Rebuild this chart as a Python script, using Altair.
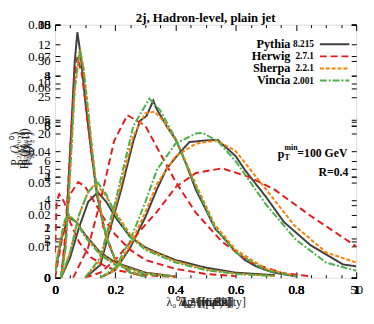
import altair as alt
import pandas as pd

W, H = 307, 258
SERIF = "Liberation Serif"

gens = ["Pythia", "Herwig", "Sherpa", "Vincia"]
versions = ["8.215", "2.7.1", "2.2.1", "2.001"]
colors = ["#404040", "#e41a1c", "#ff7f00", "#4daf4a"]
dashes = [[1, 0], [7, 4], [4, 2], [7, 2, 2, 2]]

# ---- (pT^D)^2 : tall narrow peak
ptd_x_py = [0.02, 0.035, 0.05, 0.065, 0.074, 0.085, 0.10, 0.12, 0.14, 0.17, 0.20, 0.25, 0.30]
ptd_y_py = [0, 0.012, 0.040, 0.068, 0.0776, 0.0704, 0.056, 0.040, 0.0256, 0.0128, 0.0056, 0.0016, 0.0004]
ptd_x_hw = [0.02, 0.035, 0.05, 0.065, 0.074, 0.09, 0.105, 0.12, 0.135, 0.16, 0.20, 0.25, 0.30]
ptd_y_hw = [0, 0.0144, 0.040, 0.064, 0.0698, 0.064, 0.052, 0.040, 0.0304, 0.016, 0.0056, 0.0016, 0.0004]
ptd_x_sh = [0.02, 0.035, 0.05, 0.065, 0.083, 0.095, 0.11, 0.125, 0.14, 0.17, 0.20, 0.25, 0.30]
ptd_y_sh = [0, 0.0092, 0.033, 0.059, 0.0722, 0.066, 0.053, 0.039, 0.027, 0.013, 0.0058, 0.0017, 0.0004]
ptd_x_vi = [0.02, 0.035, 0.05, 0.065, 0.082, 0.095, 0.11, 0.125, 0.14, 0.17, 0.20, 0.25, 0.30]
ptd_y_vi = [0, 0.0096, 0.0336, 0.060, 0.072, 0.0656, 0.052, 0.0384, 0.0264, 0.0128, 0.0056, 0.0016, 0.0004]

# ---- LHA : peak near 0.3
lha_x_py = [0.10, 0.15, 0.174, 0.22, 0.26, 0.282, 0.304, 0.326, 0.337, 0.37, 0.402, 0.435, 0.467, 0.50, 0.532, 0.565, 0.598, 0.63, 0.663, 0.70, 0.728, 0.80]
lha_y_py = [0, 0.004, 0.0124, 0.028, 0.0432, 0.0496, 0.0512, 0.056, 0.0534, 0.048, 0.0434, 0.036, 0.0279, 0.0216, 0.0155, 0.012, 0.0084, 0.0056, 0.0038, 0.0024, 0.0016, 0.0004]
lha_x_hw = [0.06, 0.11, 0.15, 0.196, 0.24, 0.30, 0.337, 0.40, 0.467, 0.554, 0.65, 0.75, 0.85]
lha_y_hw = [0, 0.0096, 0.024, 0.0432, 0.0514, 0.048, 0.0414, 0.0304, 0.0206, 0.0114, 0.0048, 0.0016, 0.0004]
lha_x_sh = [0.10, 0.15, 0.20, 0.26, 0.30, 0.33, 0.36, 0.40, 0.467, 0.53, 0.60, 0.70, 0.80]
lha_y_sh = [0, 0.0056, 0.0224, 0.0448, 0.052, 0.0525, 0.0496, 0.044, 0.0296, 0.0168, 0.0088, 0.0028, 0.0005]
lha_x_vi = [0.10, 0.15, 0.20, 0.26, 0.313, 0.35, 0.40, 0.467, 0.53, 0.60, 0.70, 0.80]
lha_y_vi = [0, 0.0064, 0.024, 0.048, 0.0566, 0.0528, 0.044, 0.0288, 0.016, 0.008, 0.0024, 0.0004]

# ---- multiplicity (0..50) : broad peak near 25
mult_x_py = [7.5, 10, 12.5, 15, 16.9, 18.5, 20.1, 22.3, 25, 27, 30, 31.5, 35, 38, 42.4, 47.8, 50]
mult_y_py = [0, 0.0024, 0.0096, 0.0192, 0.0279, 0.0344, 0.0382, 0.0429, 0.0434, 0.0436, 0.0384, 0.0341, 0.0256, 0.0176, 0.0103, 0.0042, 0.0036]
mult_x_hw = [5, 7.5, 10, 12.5, 15, 16.9, 20.1, 23.4, 27.7, 32, 36.4, 42.4, 50]
mult_y_hw = [0, 0.0016, 0.0056, 0.0112, 0.0168, 0.0208, 0.0288, 0.0331, 0.0346, 0.032, 0.0279, 0.0196, 0.0099]
mult_x_sh = [7.5, 10, 12.5, 15, 16.9, 20, 23.4, 26.9, 30, 35, 39.7, 45, 50]
mult_y_sh = [0, 0.0024, 0.0104, 0.0208, 0.0296, 0.0384, 0.0424, 0.0434, 0.040, 0.028, 0.0166, 0.008, 0.0048]
mult_x_vi = [7.5, 10, 12.5, 15, 16.9, 20, 23.4, 24.5, 27, 30, 35, 40, 45, 50]
mult_y_vi = [0, 0.0032, 0.012, 0.024, 0.0341, 0.0424, 0.0456, 0.0458, 0.0432, 0.0368, 0.0232, 0.012, 0.0048, 0.0022]

# ---- width : peak near 0.14
wid_x_py = [0.02, 0.05, 0.08, 0.11, 0.142, 0.17, 0.20, 0.25, 0.30, 0.337, 0.40, 0.50, 0.60, 0.73]
wid_y_py = [0, 0.0064, 0.016, 0.024, 0.027, 0.024, 0.0192, 0.0128, 0.0096, 0.008, 0.0056, 0.0032, 0.0016, 0.0008]
wid_x_hw = [0.0, 0.03, 0.05, 0.077, 0.10, 0.13, 0.17, 0.20, 0.25, 0.30, 0.40, 0.50, 0.60]
wid_y_hw = [0, 0.016, 0.0264, 0.0302, 0.0288, 0.024, 0.0176, 0.0136, 0.0088, 0.0056, 0.0028, 0.0012, 0.0005]
wid_x_sh = [0.02, 0.05, 0.08, 0.11, 0.131, 0.16, 0.20, 0.25, 0.30, 0.40, 0.50, 0.60, 0.73]
wid_y_sh = [0, 0.008, 0.020, 0.0272, 0.0294, 0.0272, 0.0208, 0.0136, 0.0092, 0.0052, 0.0026, 0.0013, 0.0005]
wid_x_vi = [0.02, 0.05, 0.08, 0.11, 0.142, 0.17, 0.20, 0.25, 0.30, 0.40, 0.50, 0.60, 0.73]
wid_y_vi = [0, 0.008, 0.020, 0.0272, 0.030, 0.0264, 0.020, 0.0128, 0.0088, 0.0048, 0.0024, 0.0012, 0.0005]

# ---- mass : peak at small values
mass_x_py = [0.0, 0.02, 0.044, 0.07, 0.10, 0.15, 0.20, 0.30, 0.40]
mass_y_py = [0.0016, 0.012, 0.0192, 0.0176, 0.0136, 0.008, 0.0048, 0.0016, 0.0004]
mass_x_hw = [0.0, 0.005, 0.014, 0.03, 0.05, 0.08, 0.12, 0.16, 0.20, 0.30, 0.40]
mass_y_hw = [0.008, 0.024, 0.0264, 0.024, 0.0176, 0.0112, 0.0064, 0.004, 0.0024, 0.0008, 0.0002]
mass_x_sh = [0.0, 0.01, 0.03, 0.045, 0.07, 0.10, 0.15, 0.20, 0.30, 0.40]
mass_y_sh = [0.0016, 0.008, 0.0168, 0.0196, 0.0176, 0.0132, 0.0076, 0.0044, 0.0014, 0.0004]
mass_x_vi = [0.0, 0.01, 0.03, 0.045, 0.07, 0.10, 0.15, 0.20, 0.30, 0.40]
mass_y_vi = [0.0016, 0.008, 0.0176, 0.020, 0.0176, 0.0128, 0.0072, 0.004, 0.0012, 0.0003]

# axis tick values of the superimposed panels
yA = [0, 0.01, 0.02, 0.03, 0.04, 0.05, 0.06, 0.07, 0.08]
yB = [0, 5, 10, 15, 20, 25, 30, 35]
yC = [0, 2, 4, 6, 8, 10, 12]
yD = [0, 2, 4, 6, 8, 10]
yE = [0, 1, 2, 3, 4, 5]
xL = [0, 0.2, 0.4, 0.6, 0.8, 1.0]
xM = [0, 50]
x_minor = [0.05, 0.1, 0.15, 0.25, 0.3, 0.35, 0.45, 0.5, 0.55, 0.65, 0.7, 0.75, 0.85, 0.9, 0.95]

y_titles = ["P₂ⱼ(λ₀⁰)", "P₂ⱼ(λ₀²)", "P₂ⱼ(λ₀.₅¹)", "P₂ⱼ(λ₁¹)", "P₂ⱼ(λ₂¹)"]
x_titles = ["λ₀⁰ [multiplicity]", "λ₀² [(pₜᴰ)²]", "λ₀.₅¹ [LHA]", "λ₁¹ [width]", "λ₂¹ [mass]"]
title_text = ["2j, Hadron-level, plain jet"]
annot = ["p", "T", "min", "=100 GeV", "R=0.4"]

series = {
    "Pythia": [("ptd", ptd_x_py, ptd_y_py), ("lha", lha_x_py, lha_y_py), ("wid", wid_x_py, wid_y_py), ("mass", mass_x_py, mass_y_py)],
    "Herwig": [("ptd", ptd_x_hw, ptd_y_hw), ("lha", lha_x_hw, lha_y_hw), ("wid", wid_x_hw, wid_y_hw), ("mass", mass_x_hw, mass_y_hw)],
    "Sherpa": [("ptd", ptd_x_sh, ptd_y_sh), ("lha", lha_x_sh, lha_y_sh), ("wid", wid_x_sh, wid_y_sh), ("mass", mass_x_sh, mass_y_sh)],
    "Vincia": [("ptd", ptd_x_vi, ptd_y_vi), ("lha", lha_x_vi, lha_y_vi), ("wid", wid_x_vi, wid_y_vi), ("mass", mass_x_vi, mass_y_vi)],
}
mult = {"Pythia": (mult_x_py, mult_y_py), "Herwig": (mult_x_hw, mult_y_hw),
        "Sherpa": (mult_x_sh, mult_y_sh), "Vincia": (mult_x_vi, mult_y_vi)}

YDOM = [0, 0.08]


def sc(dom):
    return alt.Scale(domain=list(dom), nice=False, zero=False)


layers = []
for g, col, dsh in zip(gens, colors, dashes):
    rows = []
    for obs, xs, ys in series[g]:
        for a, b in zip(xs, ys):
            rows.append({"obs": obs, "x": a, "y": b})
    df = pd.DataFrame(rows)
    layers.append(alt.Chart(df).mark_line(strokeWidth=2, clip=True, color=col, strokeDash=dsh).encode(
        x=alt.X("x:Q", scale=sc([0, 1]), axis=None),
        y=alt.Y("y:Q", scale=sc(YDOM), axis=None),
        detail="obs:N"))
    mx, my = mult[g]
    dfm = pd.DataFrame({"x": mx, "y": my})
    layers.append(alt.Chart(dfm).mark_line(strokeWidth=2, clip=True, color=col, strokeDash=dsh).encode(
        x=alt.X("x:Q", scale=sc([0, 50]), axis=None),
        y=alt.Y("y:Q", scale=sc(YDOM), axis=None)))


def guide(xdom, ydom, xaxis=None, yaxis=None):
    df = pd.DataFrame({"gx": list(xdom), "gy": list(ydom)})
    return alt.Chart(df).mark_point(opacity=0).encode(
        x=alt.X("gx:Q", scale=sc(xdom), axis=xaxis),
        y=alt.Y("gy:Q", scale=sc(ydom), axis=yaxis))


common = dict(grid=False, domain=False, labelFont=SERIF, labelFontSize=13, labelColor="black",
              labelFlush=False, labelOverlap=False, format="~r", tickColor="black")

ydefs = [([0, 0.08], yA, -34), ([0, 35], yB, -27), ([0, 13], yC, -25), ([0, 10], yD, -23), ([0, 5], yE, -21)]
for (dom, vals, tx), ttl in zip(ydefs, y_titles):
    lab = alt.Axis(orient="left", values=vals, ticks=False, labelPadding=5, title=ttl,
                   titleX=tx, titleY=126, titleAngle=-90, titleAlign="center", titleFont=SERIF,
                   titleFontSize=12, titleFontWeight="normal", titleColor="#222222", **common)
    layers.append(guide([0, 1], dom, None, lab))
    tin_l = alt.Axis(orient="right", offset=-W, values=vals, labels=False, tickSize=5, title="",
                     grid=False, domain=False, tickColor="black")
    layers.append(guide([0, 1], dom, None, tin_l))
    tin_r = alt.Axis(orient="left", offset=-W, values=vals, labels=False, tickSize=5, title="",
                     grid=False, domain=False, tickColor="black")
    layers.append(guide([0, 1], dom, None, tin_r))

# x label axes (superimposed panels)
for i, ttl in enumerate(x_titles):
    dom = [0, 50] if i == 0 else [0, 1]
    vals = xM if i == 0 else xL
    ax = alt.Axis(orient="bottom", values=vals, ticks=False, labelPadding=6, title=ttl,
                  titleY=24, titleBaseline="middle", titleAlign="center", titleFont=SERIF,
                  titleFontSize=12, titleFontWeight="normal", titleColor="#222222", **common)
    layers.append(guide(dom, [0, 1], ax, None))

for orient in ["top", "bottom"]:
    layers.append(guide([0, 1], [0, 1], alt.Axis(orient=orient, offset=-H, values=xL, labels=False,
                                                 tickSize=6, title="", grid=False, domain=False,
                                                 tickColor="black"), None))
    layers.append(guide([0, 1], [0, 1], alt.Axis(orient=orient, offset=-H, values=x_minor, labels=False,
                                                 tickSize=3, title="", grid=False, domain=False,
                                                 tickColor="black"), None))

# title
layers.append(alt.Chart(pd.DataFrame({"t": title_text})).mark_text(
    font=SERIF, fontSize=13, fontWeight="bold", align="center", baseline="middle").encode(
    x=alt.value(W / 2), y=alt.value(-7), text="t:N"))

# legend
leg = pd.DataFrame({"gen": gens, "ver": versions})
ypos = alt.Y("gen:N", scale=alt.Scale(type="point", domain=gens, range=[20, 57], padding=0), axis=None)
layers.append(alt.Chart(leg).mark_text(font=SERIF, fontSize=12.5, fontWeight="bold", align="right",
                                       baseline="middle").encode(x=alt.value(240), y=ypos, text="gen:N"))
layers.append(alt.Chart(leg).mark_text(font=SERIF, fontSize=9.5, fontWeight="bold", align="right",
                                       baseline="middle").encode(x=alt.value(264), y=ypos, text="ver:N"))
layers.append(alt.Chart(leg).mark_rule(strokeWidth=2).encode(
    x=alt.value(270), x2=alt.value(300), y=ypos,
    color=alt.Color("gen:N", scale=alt.Scale(domain=gens, range=colors), legend=None),
    strokeDash=alt.StrokeDash("gen:N", scale=alt.Scale(domain=gens, range=dashes), legend=None)))

# annotation
ann_pos = [(227, 132, 12, "left"), (234, 136, 8, "left"), (234, 126, 8, "left"),
           (247, 131, 12, "left"), (299, 150, 12, "right")]
for txt, (ax_, ay_, fs, al) in zip(annot, ann_pos):
    layers.append(alt.Chart(pd.DataFrame({"t": [txt]})).mark_text(
        font=SERIF, fontSize=fs, fontWeight="bold", align=al, baseline="middle").encode(
        x=alt.value(ax_), y=alt.value(ay_), text="t:N"))

chart = alt.layer(*layers).resolve_scale(
    x="independent", y="independent", color="independent", strokeDash="independent"
).properties(
    width=W, height=H, autosize="none",
    padding={"left": 48, "top": 14, "right": 10, "bottom": 34},
).configure_view(stroke="black", strokeWidth=1.3).configure(background="white")

chart.save("out.html", embed_options={"renderer": "svg", "actions": False})
